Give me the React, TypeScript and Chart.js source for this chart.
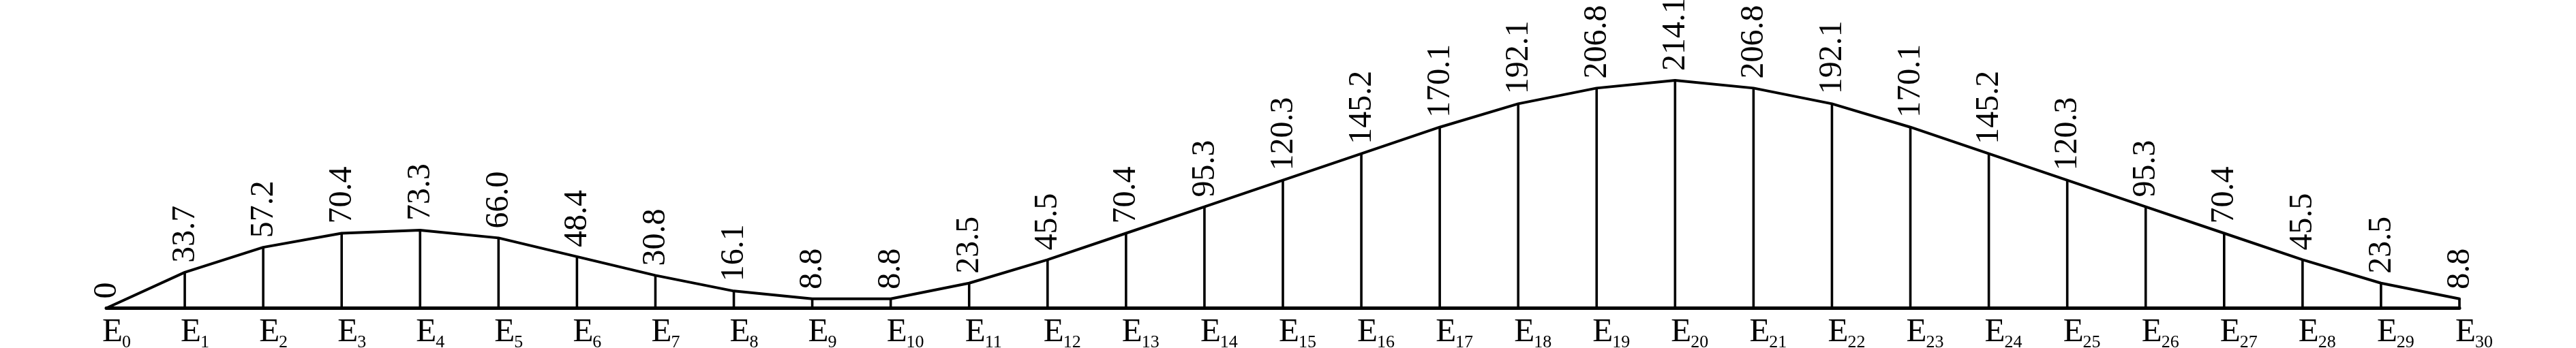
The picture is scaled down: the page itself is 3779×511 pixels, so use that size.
import React, { useEffect, useRef } from "react";
import { Chart, registerables } from "chart.js";

Chart.register(...registerables);

const pointNames = [
  "E0", "E1", "E2", "E3", "E4", "E5", "E6", "E7", "E8", "E9", "E10",
  "E11", "E12", "E13", "E14", "E15", "E16", "E17", "E18", "E19", "E20",
  "E21", "E22", "E23", "E24", "E25", "E26", "E27", "E28", "E29", "E30",
];

const values = [
  0, 33.7, 57.2, 70.4, 73.3, 66.0, 48.4, 30.8, 16.1, 8.8, 8.8,
  23.5, 45.5, 70.4, 95.3, 120.3, 145.2, 170.1, 192.1, 206.8, 214.1,
  206.8, 192.1, 170.1, 145.2, 120.3, 95.3, 70.4, 45.5, 23.5, 8.8,
];

const valueLabels = [
  "0", "33.7", "57.2", "70.4", "73.3", "66.0", "48.4", "30.8", "16.1", "8.8", "8.8",
  "23.5", "45.5", "70.4", "95.3", "120.3", "145.2", "170.1", "192.1", "206.8", "214.1",
  "206.8", "192.1", "170.1", "145.2", "120.3", "95.3", "70.4", "45.5", "23.5", "8.8",
];

const FONT = '"Liberation Serif", "Times New Roman", serif';

const annotatePlugin = {
  id: "annotate",
  beforeDatasetsDraw(chart: any) {
    const ctx = chart.ctx;
    const xs = chart.scales.x;
    const ys = chart.scales.y;
    const y0 = ys.getPixelForValue(0);
    ctx.save();
    ctx.strokeStyle = "#000";
    ctx.lineWidth = 3.6;
    ctx.lineCap = "butt";
    values.forEach((v, i) => {
      if (v === 0) return;
      const x = xs.getPixelForValue(i);
      ctx.beginPath();
      ctx.moveTo(x, y0);
      ctx.lineTo(x, ys.getPixelForValue(v));
      ctx.stroke();
    });
    ctx.lineWidth = 5;
    ctx.lineCap = "round";
    ctx.beginPath();
    ctx.moveTo(xs.getPixelForValue(0), y0);
    ctx.lineTo(xs.getPixelForValue(values.length - 1), y0);
    ctx.stroke();
    ctx.restore();
  },
  afterDraw(chart: any) {
    const ctx = chart.ctx;
    const xs = chart.scales.x;
    const ys = chart.scales.y;
    const y0 = ys.getPixelForValue(0);
    ctx.save();
    ctx.fillStyle = "#000";
    ctx.font = `48px ${FONT}`;
    ctx.textAlign = "left";
    ctx.textBaseline = "middle";
    values.forEach((v, i) => {
      const x = xs.getPixelForValue(i);
      const y = ys.getPixelForValue(v);
      ctx.save();
      ctx.translate(x + 1, y - 14);
      ctx.rotate(-Math.PI / 2);
      ctx.fillText(valueLabels[i], 0, 0);
      ctx.restore();
    });
    ctx.textBaseline = "alphabetic";
    pointNames.forEach((name, i) => {
      const x = xs.getPixelForValue(i);
      const main = name.charAt(0);
      const sub = name.slice(1);
      ctx.font = `49px ${FONT}`;
      const w = ctx.measureText(main).width;
      const left = x - 6;
      ctx.fillText(main, left, y0 + 48);
      ctx.font = `26px ${FONT}`;
      ctx.fillText(sub, left + w - 1, y0 + 57);
    });
    ctx.restore();
  },
};

export default function App() {
  const ref = useRef<HTMLCanvasElement | null>(null);
  useEffect(() => {
    if (!ref.current) return;
    const chart = new Chart(ref.current, {
      type: "line",
      data: {
        datasets: [
          {
            data: values.map((v, i) => ({ x: i, y: v })),
            borderColor: "#000",
            borderWidth: 4,
            pointRadius: 0,
            tension: 0,
            fill: false,
            borderCapStyle: "round",
            borderJoinStyle: "round",
            clip: false,
          } as any,
        ],
      },
      options: {
        animation: false,
        responsive: false,
        maintainAspectRatio: false,
        events: [],
        layout: { padding: { left: 156, right: 171, top: 15, bottom: 58.5 } },
        plugins: { legend: { display: false }, tooltip: { enabled: false } },
        scales: {
          x: { type: "linear", min: 0, max: 30, display: false },
          y: { type: "linear", min: 0, max: 280, display: false },
        },
      },
      plugins: [annotatePlugin],
    });
    return () => chart.destroy();
  }, []);
  return (
    <div style={{ position: "fixed", left: 0, top: 0, width: 3779, height: 511, background: "#fff" }}>
      <canvas ref={ref} width={3779} height={511} style={{ width: 3779, height: 511, display: "block" }} />
    </div>
  );
}
